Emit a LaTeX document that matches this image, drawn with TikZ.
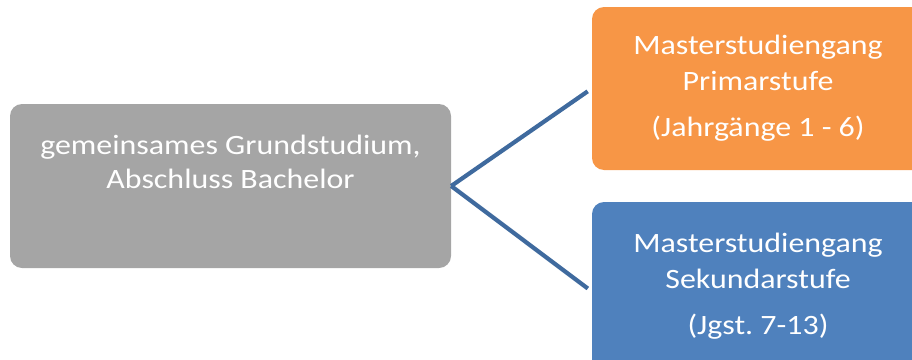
\documentclass[tikz,border=0pt]{standalone}
\usepackage{fontspec}
\setmainfont{Carlito}
\newfontfamily\boxfont[FakeStretch=1.14]{Carlito}
\usepackage{xcolor}
\usetikzlibrary{positioning,calc}
\definecolor{graubox}{HTML}{A5A5A5}
\definecolor{orangebox}{HTML}{F79646}
\definecolor{blaubox}{HTML}{4F81BD}
\definecolor{blaulinie}{HTML}{3F6A9E}
\frenchspacing
\begin{document}
\begin{tikzpicture}[x=1pt, y=-1pt,
    stufe/.style={rectangle, rounded corners=12pt, inner sep=0pt, text=white, align=center, font=\boxfont\fontsize{28}{35.5}\selectfont},
    grundbox/.style={stufe, fill=graubox, minimum width=441pt, minimum height=164pt},
    masterbox/.style={stufe, minimum width=332pt, minimum height=163pt},
    verbindung/.style={draw=blaulinie, line width=4.2pt, shorten >=5pt}]
\useasboundingbox (0,0) rectangle (912,359);
\node[grundbox] (grund) at (230.5,186) {};
\node[text=white, align=center, font=\boxfont\fontsize{28}{34}\selectfont] (grundtext) at (230.5,162) {gemeinsames Grundstudium,\\Abschluss Bachelor};
\node[masterbox, fill=orangebox] (primar) at (758,88.5) {Masterstudiengang\\Primarstufe\\[11pt](Jahrgänge 1 - 6)};
\node[masterbox, fill=blaubox, minimum height=169pt] (sekundar) at (758,286.5) {Masterstudiengang\\Sekundarstufe\\[11pt](Jgst. 7-13)};
\draw[verbindung] (grund.east) -- (primar.west);
\draw[verbindung] (grund.east) -- ([yshift=-5pt]sekundar.west);
\end{tikzpicture}
\end{document}
